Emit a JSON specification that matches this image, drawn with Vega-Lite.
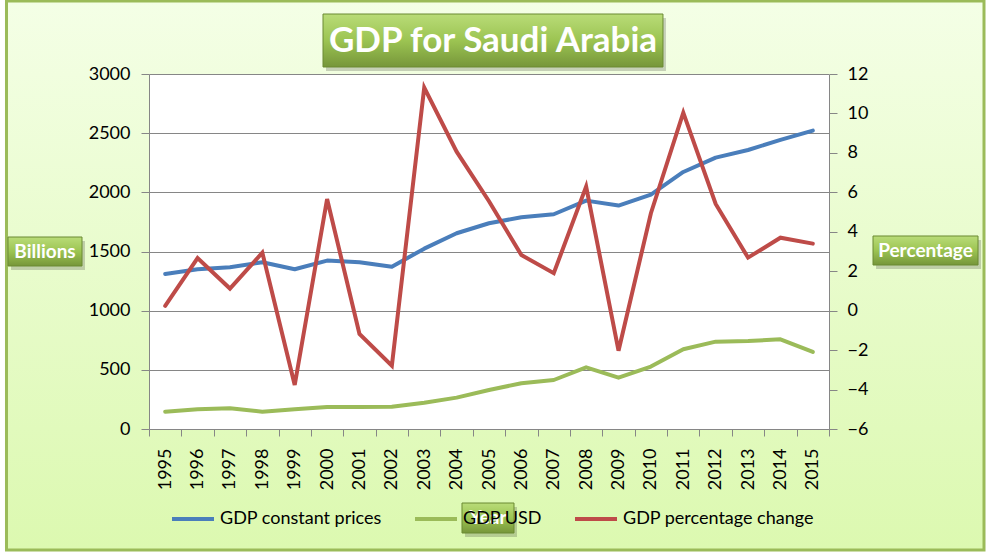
{
  "$schema": "https://vega.github.io/schema/vega-lite/v6.json",
  "width": 680,
  "height": 355,
  "autosize": {"type": "none"},
  "padding": {"left": 149, "top": 74, "right": 160, "bottom": 128},
  "background": "white",
  "config": {
    "view": {"fill": "white", "stroke": null},
    "font": "Lato",
    "axis": {"labelFont": "Lato", "labelColor": "#000000", "labelFontSize": 18, "labelOverlap": false, "labelFlush": false, "labelBound": false},
    "axisX": {"labelOverlap": false, "tickCount": 40},
    "legend": {"labelFont": "Lato", "labelColor": "#000000", "labelFontSize": 18}
  },
  "data": {
    "values": [
      {"year": 1995, "GDP constant prices": 1310, "GDP USD": 146, "GDP percentage change": 0.24},
      {"year": 1996, "GDP constant prices": 1350, "GDP USD": 166, "GDP percentage change": 2.67},
      {"year": 1997, "GDP constant prices": 1367, "GDP USD": 175, "GDP percentage change": 1.12},
      {"year": 1998, "GDP constant prices": 1409, "GDP USD": 146, "GDP percentage change": 2.94},
      {"year": 1999, "GDP constant prices": 1350, "GDP USD": 166, "GDP percentage change": -3.77},
      {"year": 2000, "GDP constant prices": 1423, "GDP USD": 186, "GDP percentage change": 5.66},
      {"year": 2001, "GDP constant prices": 1409, "GDP USD": 186, "GDP percentage change": -1.18},
      {"year": 2002, "GDP constant prices": 1372, "GDP USD": 188, "GDP percentage change": -2.79},
      {"year": 2003, "GDP constant prices": 1524, "GDP USD": 222, "GDP percentage change": 11.31},
      {"year": 2004, "GDP constant prices": 1654, "GDP USD": 265, "GDP percentage change": 8.06},
      {"year": 2005, "GDP constant prices": 1739, "GDP USD": 330, "GDP percentage change": 5.55},
      {"year": 2006, "GDP constant prices": 1789, "GDP USD": 386, "GDP percentage change": 2.82},
      {"year": 2007, "GDP constant prices": 1815, "GDP USD": 414, "GDP percentage change": 1.9},
      {"year": 2008, "GDP constant prices": 1930, "GDP USD": 521, "GDP percentage change": 6.29},
      {"year": 2009, "GDP constant prices": 1888, "GDP USD": 434, "GDP percentage change": -2.03},
      {"year": 2010, "GDP constant prices": 1981, "GDP USD": 528, "GDP percentage change": 4.94},
      {"year": 2011, "GDP constant prices": 2172, "GDP USD": 674, "GDP percentage change": 10.04},
      {"year": 2012, "GDP constant prices": 2293, "GDP USD": 738, "GDP percentage change": 5.41},
      {"year": 2013, "GDP constant prices": 2358, "GDP USD": 744, "GDP percentage change": 2.69},
      {"year": 2014, "GDP constant prices": 2443, "GDP USD": 758, "GDP percentage change": 3.7},
      {"year": 2015, "GDP constant prices": 2522, "GDP USD": 651, "GDP percentage change": 3.4}
    ]
  },
  "layer": [
    {
      "layer": [
        {
          "data": {"values": [{}]},
          "mark": {"type": "rect", "fill": {"gradient": "linear", "x1": 0, "y1": 0, "x2": 0, "y2": 1, "stops": [{"offset": 0, "color": "#f4ffe6"}, {"offset": 1, "color": "#f1fedf"}]}},
          "encoding": {
            "x": {"datum": 1990.099, "type": "quantitative"},
            "x2": {"datum": 2020.287},
            "y": {"datum": 3000, "type": "quantitative", "axis": null},
            "y2": {"datum": 3616.9}
          }
        },
        {
          "data": {"values": [{}]},
          "mark": {"type": "rect", "fill": {"gradient": "linear", "x1": 0, "y1": 0, "x2": 0, "y2": 1, "stops": [{"offset": 0, "color": "#e1fabc"}, {"offset": 1, "color": "#dcf9b0"}]}},
          "encoding": {
            "x": {"datum": 1990.099, "type": "quantitative"},
            "x2": {"datum": 2020.287},
            "y": {"datum": 0, "type": "quantitative", "axis": null},
            "y2": {"datum": -1022.5}
          }
        },
        {
          "data": {"values": [{}]},
          "mark": {"type": "rect", "fill": {"gradient": "linear", "x1": 0, "y1": 0, "x2": 0, "y2": 1, "stops": [{"offset": 0, "color": "#f1fedf"}, {"offset": 1, "color": "#e1fabc"}]}},
          "encoding": {
            "x": {"datum": 1990.099, "type": "quantitative"},
            "x2": {"datum": 1994.5},
            "y": {"datum": 0, "type": "quantitative", "axis": null},
            "y2": {"datum": 3000}
          }
        },
        {
          "data": {"values": [{}]},
          "mark": {"type": "rect", "fill": {"gradient": "linear", "x1": 0, "y1": 0, "x2": 0, "y2": 1, "stops": [{"offset": 0, "color": "#f1fedf"}, {"offset": 1, "color": "#e1fabc"}]}},
          "encoding": {
            "x": {"datum": 2015.5, "type": "quantitative"},
            "x2": {"datum": 2020.287},
            "y": {"datum": 0, "type": "quantitative", "axis": null},
            "y2": {"datum": 3000}
          }
        },
        {
          "data": {"values": [{}]},
          "mark": {"type": "rect", "filled": false, "color": "#9bbb59", "strokeWidth": 3},
          "encoding": {
            "x": {"datum": 1990.099, "type": "quantitative"},
            "x2": {"datum": 2020.287},
            "y": {"datum": -1022.5, "type": "quantitative", "axis": null},
            "y2": {"datum": 3616.9}
          }
        },
        {
          "transform": [{"fold": ["GDP constant prices", "GDP USD"], "as": ["series", "value"]}],
          "mark": {"type": "line", "strokeWidth": 4, "strokeCap": "round", "strokeJoin": "round"},
          "encoding": {
            "x": {
              "field": "year", "type": "quantitative",
              "scale": {"domain": [1994.5, 2015.5], "nice": false, "zero": false}
            },
            "y": {
              "field": "value", "type": "quantitative",
              "scale": {"domain": [0, 3000], "nice": false, "zero": true},
              "axis": {
                "orient": "left", "values": [0, 500, 1000, 1500, 2000, 2500, 3000],
                "grid": true, "gridColor": "#868686", "gridWidth": 1, "gridOpacity": 1,
                "labels": false, "ticks": false, "domain": false, "title": null, "zindex": 0
              }
            },
            "color": {
              "field": "series", "type": "nominal",
              "scale": {"domain": ["GDP constant prices", "GDP USD", "GDP percentage change"], "range": ["#4a7ebb", "#9bbb59", "#be4b48"]},
              "legend": {
                "orient": "none", "direction": "horizontal", "legendX": 21, "legendY": 422,
                "title": null, "symbolType": "stroke", "symbolStrokeWidth": 4, "symbolSize": 1764,
                "labelOffset": 4, "columnPadding": 25, "labelLimit": 400
              }
            }
          }
        },
        {
          "data": {"values": [{}]},
          "mark": {"type": "rect", "color": "#000000", "opacity": 0.18},
          "encoding": {
            "x": {"datum": 1999.966, "type": "quantitative"},
            "x2": {"datum": 2010.466},
            "y": {"datum": 3025.4, "type": "quantitative", "axis": null},
            "y2": {"datum": 3473.2}
          }
        },
        {
          "data": {"values": [{}]},
          "mark": {"type": "rect", "stroke": "#6b8a32", "strokeWidth": 1, "fill": {"gradient": "linear", "x1": 0, "y1": 0, "x2": 0, "y2": 1, "stops": [{"offset": 0, "color": "#b9dc78"}, {"offset": 0.5, "color": "#9cc452"}, {"offset": 1, "color": "#76963a"}]}},
          "encoding": {
            "x": {"datum": 1999.874, "type": "quantitative"},
            "x2": {"datum": 2010.373},
            "y": {"datum": 3059.2, "type": "quantitative", "axis": null},
            "y2": {"datum": 3507.0}
          }
        },
        {
          "data": {"values": [{}]},
          "mark": {"type": "text", "text": "GDP for Saudi Arabia", "font": "Lato", "fontWeight": "bold", "fontSize": 35, "color": "white", "align": "center", "baseline": "middle"},
          "encoding": {
            "x": {"datum": 2005.123, "type": "quantitative"},
            "y": {"datum": 3278.9, "type": "quantitative", "axis": null}
          }
        },
        {
          "data": {"values": [{}]},
          "mark": {"type": "rect", "color": "#000000", "opacity": 0.18},
          "encoding": {
            "x": {"datum": 1990.239, "type": "quantitative"},
            "x2": {"datum": 1992.524},
            "y": {"datum": 1343.7, "type": "quantitative", "axis": null},
            "y2": {"datum": 1588.7}
          }
        },
        {
          "data": {"values": [{}]},
          "mark": {"type": "rect", "stroke": "#6b8a32", "strokeWidth": 1, "fill": {"gradient": "linear", "x1": 0, "y1": 0, "x2": 0, "y2": 1, "stops": [{"offset": 0, "color": "#b9dc78"}, {"offset": 0.5, "color": "#9cc452"}, {"offset": 1, "color": "#76963a"}]}},
          "encoding": {
            "x": {"datum": 1990.146, "type": "quantitative"},
            "x2": {"datum": 1992.431},
            "y": {
              "datum": 1377.5, "type": "quantitative",
              "axis": {
                "orient": "left", "values": [0, 500, 1000, 1500, 2000, 2500, 3000], "format": "d",
                "grid": false, "domain": true, "domainColor": "#868686", "ticks": true, "tickColor": "#868686",
                "tickSize": 8, "labelPadding": 11, "title": null, "zindex": 1
              }
            },
            "y2": {"datum": 1622.5}
          }
        },
        {
          "data": {"values": [{}]},
          "mark": {"type": "text", "text": "Billions", "font": "Lato", "fontWeight": "bold", "fontSize": 19, "color": "white", "align": "center", "baseline": "middle"},
          "encoding": {
            "x": {"datum": 1991.288, "type": "quantitative"},
            "y": {"datum": 1500, "type": "quantitative", "axis": null}
          }
        },
        {
          "data": {"values": [{}]},
          "mark": {"type": "rect", "color": "#000000", "opacity": 0.18},
          "encoding": {
            "x": {"datum": 2016.952, "type": "quantitative"},
            "x2": {"datum": 2020.195},
            "y": {"datum": 1352.1, "type": "quantitative", "axis": null},
            "y2": {"datum": 1597.2}
          }
        },
        {
          "data": {"values": [{}]},
          "mark": {"type": "rect", "stroke": "#6b8a32", "strokeWidth": 1, "fill": {"gradient": "linear", "x1": 0, "y1": 0, "x2": 0, "y2": 1, "stops": [{"offset": 0, "color": "#b9dc78"}, {"offset": 0.5, "color": "#9cc452"}, {"offset": 1, "color": "#76963a"}]}},
          "encoding": {
            "x": {"datum": 2016.859, "type": "quantitative"},
            "x2": {"datum": 2020.102},
            "y": {"datum": 1385.9, "type": "quantitative", "axis": null},
            "y2": {"datum": 1631.0}
          }
        },
        {
          "data": {"values": [{}]},
          "mark": {"type": "text", "text": "Percentage", "font": "Lato", "fontWeight": "bold", "fontSize": 19, "color": "white", "align": "center", "baseline": "middle"},
          "encoding": {
            "x": {"datum": 2018.48, "type": "quantitative"},
            "y": {"datum": 1508.4, "type": "quantitative", "axis": null}
          }
        },
        {
          "data": {"values": [{}]},
          "mark": {"type": "rect", "color": "#000000", "opacity": 0.18},
          "encoding": {
            "x": {"datum": 2004.259, "type": "quantitative"},
            "x2": {"datum": 2005.865},
            "y": {"datum": -912.7, "type": "quantitative", "axis": null},
            "y2": {"datum": -659.2}
          }
        },
        {
          "data": {"values": [{}]},
          "mark": {"type": "rect", "stroke": "#6b8a32", "strokeWidth": 1, "fill": {"gradient": "linear", "x1": 0, "y1": 0, "x2": 0, "y2": 1, "stops": [{"offset": 0, "color": "#b9dc78"}, {"offset": 0.5, "color": "#9cc452"}, {"offset": 1, "color": "#76963a"}]}},
          "encoding": {
            "x": {"datum": 2004.166, "type": "quantitative"},
            "x2": {"datum": 2005.772},
            "y": {"datum": -878.9, "type": "quantitative", "axis": null},
            "y2": {"datum": -625.4}
          }
        },
        {
          "data": {"values": [{}]},
          "mark": {"type": "text", "text": "Year", "font": "Lato", "fontWeight": "bold", "fontSize": 19, "color": "white", "align": "center", "baseline": "middle"},
          "encoding": {
            "x": {"datum": 2004.969, "type": "quantitative"},
            "y": {"datum": -752.1, "type": "quantitative", "axis": null}
          }
        }
      ],
      "resolve": {"axis": {"y": "independent"}}
    },
    {
      "transform": [{"fold": ["GDP percentage change"], "as": ["series", "value"]}],
      "mark": {"type": "line", "strokeWidth": 4, "strokeCap": "round", "strokeJoin": "miter"},
      "encoding": {
        "x": {
          "field": "year", "type": "quantitative",
          "scale": {"domain": [1994.5, 2015.5], "nice": false, "zero": false},
          "axis": {
            "orient": "bottom", "tickCount": 40,
            "values": [1994.5, 1995.5, 1996.5, 1997.5, 1998.5, 1999.5, 2000.5, 2001.5, 2002.5, 2003.5, 2004.5, 2005.5, 2006.5, 2007.5, 2008.5, 2009.5, 2010.5, 2011.5, 2012.5, 2013.5, 2014.5, 2015.5],
            "labelExpr": "datum.value > 2015 ? '' : format(datum.value + 0.5, 'd')",
            "labelAngle": -90, "labelOffset": 16.2, "labelPadding": 12, "labelOverlap": false, "labelFlush": false, "labelBound": false,
            "ticks": true, "tickSize": 7, "tickColor": "#868686", "domain": true, "domainColor": "#868686",
            "grid": false, "title": null, "zindex": 1
          }
        },
        "y": {
          "field": "value", "type": "quantitative",
          "scale": {"domain": [-6, 12], "nice": false, "zero": false},
          "axis": {
            "orient": "right", "values": [-6, -4, -2, 0, 2, 4, 6, 8, 10, 12],
            "grid": false, "domain": true, "domainColor": "#868686", "ticks": true, "tickColor": "#868686",
            "tickSize": 8, "labelPadding": 10, "title": null, "zindex": 1
          }
        },
        "color": {
          "field": "series", "type": "nominal",
          "scale": {"domain": ["GDP constant prices", "GDP USD", "GDP percentage change"], "range": ["#4a7ebb", "#9bbb59", "#be4b48"]},
          "legend": {
            "orient": "none", "direction": "horizontal", "legendX": 21, "legendY": 422,
            "title": null, "symbolType": "stroke", "symbolStrokeWidth": 4, "symbolSize": 1764,
            "labelOffset": 4, "columnPadding": 25, "labelLimit": 400
          }
        }
      }
    }
  ],
  "resolve": {"scale": {"y": "independent"}, "axis": {"y": "independent"}}
}
